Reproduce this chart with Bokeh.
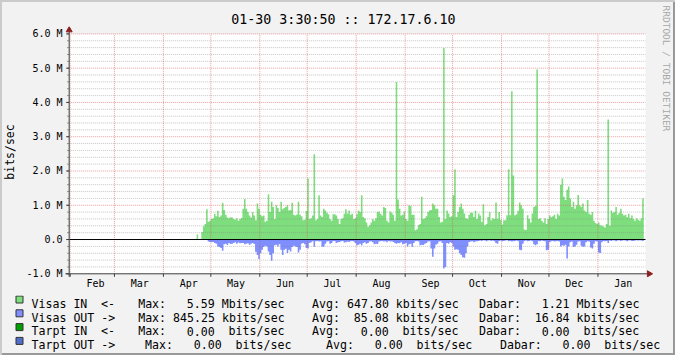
import re
import numpy as np
from bokeh.plotting import figure
from bokeh.models import Range1d, FixedTicker
from bokeh.layouts import column, row
from bokeh.embed import file_html
from bokeh.resources import INLINE
from bokeh.core.properties import value

# ---------------- data (Mbits/sec, one value per day; day 0 = Feb 1) ----------------
FIRST_DAY = 80

visas_in = [
    0.15, 0.00, 0.00, 0.22, 0.39, 0.45, 0.88, 0.52, 0.55, 0.60,   # 80
    0.62, 0.75, 0.68, 0.84, 0.66, 0.70, 1.07, 0.86, 0.72, 0.64,   # 90
    0.62, 0.65, 0.64, 0.60, 0.58, 0.62, 0.55, 0.60, 0.63, 0.90,   # 100
    1.18, 0.90, 0.80, 0.70, 0.64, 0.80, 0.70, 0.56, 1.05, 0.90,   # 110
    0.72, 0.68, 0.70, 0.52, 0.55, 1.32, 0.80, 1.10, 0.95, 0.60,   # 120
    1.00, 0.92, 0.80, 1.10, 0.88, 0.92, 0.95, 1.00, 0.85, 0.86,   # 130
    1.07, 0.72, 0.70, 0.73, 1.10, 0.72, 0.68, 0.56, 0.58, 0.83,   # 140
    1.78, 0.60, 0.62, 0.70, 2.49, 0.56, 0.60, 1.29, 0.70, 0.66,   # 150
    0.90, 0.85, 0.78, 0.74, 0.60, 0.55, 0.74, 0.74, 0.70, 0.60,   # 160
    0.45, 0.60, 0.62, 0.75, 0.88, 0.76, 0.85, 0.72, 0.75, 0.60,   # 170
    0.62, 0.74, 0.85, 0.80, 1.29, 0.66, 0.62, 0.50, 0.37, 0.42,   # 180
    0.50, 0.60, 0.55, 0.62, 0.80, 0.82, 0.75, 0.70, 0.95, 0.92,   # 190
    0.55, 0.50, 0.82, 0.78, 0.72, 0.55, 4.60, 1.17, 0.90, 0.70,   # 200
    0.72, 0.82, 0.60, 0.55, 1.00, 0.98, 0.72, 0.72, 0.27, 0.30,   # 210
    0.42, 0.45, 1.25, 0.60, 0.62, 0.68, 0.80, 0.85, 0.86, 1.05,   # 220
    1.00, 0.90, 0.90, 0.66, 0.50, 0.52, 5.59, 0.60, 0.85, 0.76,   # 230
    0.66, 0.68, 1.29, 2.04, 0.66, 0.80, 0.95, 1.05, 0.90, 0.76,   # 240
    0.62, 0.60, 0.72, 0.78, 0.78, 0.66, 0.84, 0.60, 0.76, 0.70,   # 250
    0.51, 1.03, 0.42, 0.45, 0.66, 0.80, 0.56, 0.62, 0.60, 1.08,   # 260
    0.61, 0.80, 0.58, 0.44, 0.56, 0.56, 0.71, 2.05, 0.71, 4.33,   # 270
    1.87, 0.71, 0.74, 0.84, 1.08, 1.00, 0.90, 0.29, 0.28, 0.71,   # 280
    0.60, 0.50, 0.76, 0.95, 0.98, 4.96, 0.60, 0.62, 0.55, 0.50,   # 290
    0.62, 0.45, 0.60, 0.70, 0.65, 0.68, 0.72, 0.60, 0.75, 0.70,   # 300
    1.60, 1.78, 1.25, 1.15, 1.45, 1.55, 1.20, 0.95, 1.10, 0.90,   # 310
    1.00, 1.30, 1.00, 0.95, 1.05, 0.85, 0.80, 1.15, 0.75, 0.72,   # 320
    0.80, 0.55, 0.48, 0.45, 0.50, 0.42, 0.40, 0.38, 0.35, 0.45,   # 330
    3.50, 0.40, 0.85, 0.78, 0.80, 0.95, 0.72, 0.78, 0.90, 0.75,   # 340
    0.70, 0.72, 0.65, 0.75, 0.62, 0.70, 0.60, 0.55, 0.62, 0.58,   # 350
    0.55, 0.62, 1.20,                                              # 360
]

visas_out = [
    0.00, 0.00, 0.00, 0.00, 0.00, 0.00, 0.00, -0.06, -0.07, -0.08,      # 80
    -0.07, -0.10, -0.12, -0.20, -0.22, -0.25, -0.33, -0.14, -0.12, -0.16,  # 90
    -0.10, -0.13, -0.12, -0.10, -0.08, -0.12, -0.09, -0.11, -0.10, -0.10,  # 100
    -0.14, -0.12, -0.11, -0.15, -0.12, -0.10, -0.13, -0.36, -0.45, -0.57,  # 110
    -0.40, -0.30, -0.22, -0.18, -0.20, -0.35, -0.45, -0.62, -0.40, -0.17,  # 120
    -0.15, -0.20, -0.14, -0.30, -0.45, -0.30, -0.27, -0.39, -0.30, -0.35,  # 130
    -0.22, -0.18, -0.20, -0.22, -0.38, -0.30, -0.12, -0.10, -0.14, -0.25,  # 140
    -0.26, -0.10, -0.08, -0.05, -0.21, -0.05, -0.04, -0.06, -0.05, -0.21,  # 150
    -0.20, -0.12, -0.06, -0.05, -0.12, -0.10, -0.04, -0.05, -0.10, -0.08,  # 160
    -0.07, -0.05, -0.04, -0.09, -0.08, -0.06, -0.07, -0.05, -0.04, -0.06,  # 170
    -0.10, -0.17, -0.15, -0.12, -0.17, -0.10, -0.08, -0.12, -0.10, -0.06,  # 180
    -0.05, -0.08, -0.14, -0.12, -0.13, -0.06, -0.05, -0.04, -0.06, -0.05,  # 190
    -0.08, -0.04, -0.06, -0.05, -0.07, -0.10, -0.12, -0.10, -0.11, -0.08,  # 200
    -0.14, -0.12, -0.10, -0.20, -0.14, -0.12, -0.21, -0.10, -0.05, -0.04,  # 210
    -0.06, -0.17, -0.15, -0.16, -0.12, -0.10, -0.06, -0.05, -0.26, -0.50,  # 220
    -0.26, -0.15, -0.12, -0.06, -0.05, -0.10, -0.845, -0.80, -0.10, -0.12, # 230
    -0.08, -0.10, -0.20, -0.30, -0.28, -0.30, -0.40, -0.45, -0.52, -0.53,  # 240
    -0.40, -0.20, -0.07, -0.06, -0.05, -0.08, -0.06, -0.05, -0.04, -0.03,  # 250
    -0.04, -0.02, -0.03, -0.05, -0.03, -0.02, -0.04, -0.03, -0.05, -0.10,  # 260
    -0.12, -0.04, -0.03, -0.05, -0.04, -0.03, -0.02, -0.05, -0.04, -0.06,  # 270
    -0.05, -0.04, -0.03, -0.05, -0.30, -0.31, -0.12, -0.04, -0.03, -0.05,  # 280
    -0.04, -0.03, -0.05, -0.14, -0.17, -0.14, -0.04, -0.05, -0.03, -0.04,  # 290
    -0.05, -0.31, -0.30, -0.08, -0.05, -0.04, -0.06, -0.05, -0.04, -0.06,  # 300
    -0.20, -0.17, -0.18, -0.15, -0.55, -0.20, -0.08, -0.06, -0.22, -0.20,  # 310
    -0.15, -0.06, -0.05, -0.18, -0.21, -0.20, -0.08, -0.05, -0.06, -0.23,  # 320
    -0.26, -0.12, -0.05, -0.06, -0.38, -0.39, -0.08, -0.04, -0.05, -0.04,  # 330
    -0.10, -0.03, -0.04, -0.02, -0.03, -0.05, -0.03, -0.02, -0.04, -0.03,  # 340
    -0.02, -0.03, -0.05, -0.03, -0.02, -0.04, -0.04, -0.03, -0.02, -0.03,  # 350
    -0.02, -0.03, -0.04,                                                    # 360
]

month_names = ["Feb", "Mar", "Apr", "May", "Jun", "Jul",
               "Aug", "Sep", "Oct", "Nov", "Dec", "Jan"]
month_start_days = [0, 28, 59, 89, 120, 150, 181, 212, 242, 273, 303, 334]

y_ticks = [-1, 0, 1, 2, 3, 4, 5, 6]
y_tick_labels = ["-1.0 M", "0.0", "1.0 M", "2.0 M", "3.0 M", "4.0 M", "5.0 M", "6.0 M"]

title_text = "01-30 3:30:50 :: 172.17.6.10"
credit_text = "RRDTOOL / TOBI OETIKER"

legend_rows = [
    "Visas IN  <-   Max:   5.59 Mbits/sec    Avg: 647.80 kbits/sec   Dabar:   1.21 Mbits/sec",
    "Visas OUT ->   Max: 845.25 kbits/sec    Avg:  85.08 kbits/sec   Dabar:  16.84 kbits/sec",
    "Tarpt IN  <-   Max:   0.00  bits/sec    Avg:   0.00  bits/sec   Dabar:   0.00  bits/sec",
    "Tarpt OUT ->    Max:   0.00  bits/sec     Avg:   0.00  bits/sec    Dabar:   0.00  bits/sec",
]

# ---------------- styles ----------------
FONT = "DejaVu Sans Mono"
GREEN = "#7EDE7E"
BLUE = "#7F8FFF"
TARPT_IN = "#00A000"
TARPT_OUT = "#506EC8"
legend_colors = [GREEN, BLUE, TARPT_IN, TARPT_OUT]
AXIS = "#3C3C3C"
ARROW = "#8B2020"
MINOR = "#808080"
MAJOR = "#D85050"
BG = "#F2F2F2"

# pixel geometry of the chart area (canvas coordinates)
X0_PX, PXD = 67.7, 1.5855     # Feb 1 position, pixels per day
YM1_PX, PXM = 273.3, 34.27    # -1 M position, pixels per M
FRAME_LEFT = 62


def dx(px):
    return (px - X0_PX) / PXD


def dy(py):
    return -1 + (YM1_PX - py) / PXM


def common(p):
    p.background_fill_color = None
    p.border_fill_color = None
    p.outline_line_color = None
    return p


# ---------------- title strip (frame aligned with the chart frame) ----------------
T = common(figure(width=653, height=26, x_range=Range1d(FRAME_LEFT, 653), y_range=Range1d(0, 26),
                  x_axis_type=None, y_axis_type=None, min_border=0,
                  min_border_left=FRAME_LEFT,
                  output_backend="svg", toolbar_location=None))
T.text(x=[229.4], y=[26 - 18.6], text=[title_text], text_font=value(FONT),
       text_font_size="13.3px", text_align="left", text_baseline="alphabetic",
       text_color="#000000")

# ---------------- chart ----------------
A = common(figure(width=653, height=269,
                  x_range=Range1d(dx(FRAME_LEFT), dx(653)), y_range=Range1d(dy(277), dy(26)),
                  min_border=0, min_border_left=FRAME_LEFT, min_border_bottom=18,
                  min_border_right=0, min_border_top=0,
                  output_backend="svg", toolbar_location=None))
A.xgrid.visible = False
A.ygrid.visible = False

ax_left, ax_right = dx(66.7), dx(645)
A.quad(left=[ax_left], right=[ax_right], bottom=[-1], top=[6],
       fill_color="#FFFFFF", line_color=None)


def steps(start, vals):
    d = start + np.arange(len(vals))
    xs = np.column_stack([d, d + 1]).ravel()
    ys = np.repeat(np.asarray(vals, dtype=float), 2)
    return xs, ys


xi, yi = steps(FIRST_DAY, visas_in)
xo, yo = steps(FIRST_DAY, visas_out)
A.varea(x=xi, y1=np.zeros_like(yi), y2=yi, fill_color=GREEN)
A.varea(x=xo, y1=np.zeros_like(yo), y2=yo, fill_color=BLUE)

# grid (drawn over the areas, like rrdtool)
grid_levels = np.round(np.arange(-1, 6.0001, 0.2), 2)
minor_levels = [v for v in grid_levels if abs(v - round(v)) > 1e-6]
major_levels = [v for v in y_ticks if v not in (0, -1)]
A.segment(x0=[ax_left] * len(minor_levels), y0=minor_levels,
          x1=[ax_right] * len(minor_levels), y1=minor_levels,
          line_color=MINOR, line_alpha=0.45, line_dash="1 1", line_width=1)
A.segment(x0=[ax_left] * len(major_levels), y0=major_levels,
          x1=[ax_right] * len(major_levels), y1=major_levels,
          line_color=MAJOR, line_alpha=0.55, line_dash="1 1", line_width=1)
A.segment(x0=month_start_days, y0=[-1] * 12, x1=month_start_days, y1=[6] * 12,
          line_color=MAJOR, line_alpha=0.55, line_dash="1 1", line_width=1)

# zero line
A.segment(x0=[ax_left], y0=[0], x1=[ax_right], y1=[0], line_color="#000000", line_width=1)

# axes lines, ticks and arrows
A.segment(x0=[ax_left], y0=[dy(276.3)], x1=[ax_left], y1=[dy(31)], line_color=AXIS, line_width=1)
A.segment(x0=[dx(63)], y0=[-1], x1=[dx(647)], y1=[-1], line_color=AXIS, line_width=1)
A.segment(x0=[dx(64.7)] * len(grid_levels), y0=grid_levels,
          x1=[ax_left] * len(grid_levels), y1=grid_levels, line_color="#808080", line_width=1)
A.segment(x0=[dx(63.7)] * len(y_ticks), y0=y_ticks,
          x1=[ax_left] * len(y_ticks), y1=y_ticks, line_color=AXIS, line_width=1)
A.segment(x0=month_start_days, y0=[-1] * 12, x1=month_start_days, y1=[dy(276.3)] * 12,
          line_color=AXIS, line_width=1)
A.scatter(x=[ax_left], y=[dy(29.6)], marker="triangle", size=6,
          fill_color=ARROW, line_color=ARROW)
A.scatter(x=[dx(648.6)], y=[-1], marker="triangle", size=6, angle=-np.pi / 2,
          fill_color=ARROW, line_color=ARROW)

label_days = [d + 16 for d in month_start_days]
xa = A.xaxis[0]
xa.ticker = FixedTicker(ticks=label_days, minor_ticks=[])
xa.major_label_overrides = {d: m for d, m in zip(label_days, month_names)}
ya = A.yaxis[0]
ya.ticker = FixedTicker(ticks=y_ticks, minor_ticks=[])
ya.major_label_overrides = {v: s for v, s in zip(y_ticks, y_tick_labels)}
for ax in (xa, ya):
    ax.axis_line_color = None
    ax.major_tick_line_color = None
    ax.minor_tick_line_color = None
    ax.major_tick_out = 0
    ax.major_tick_in = 0
    ax.minor_tick_out = 0
    ax.minor_tick_in = 0
    ax.major_label_text_font = FONT
    ax.major_label_text_font_size = "10px"
    ax.major_label_text_color = "#000000"
xa.major_label_standoff = 0
ya.major_label_standoff = 2
ya.axis_label = "bits/sec"
ya.axis_label_text_font = FONT
ya.axis_label_text_font_size = "11.5px"
ya.axis_label_text_font_style = "normal"
ya.axis_label_text_color = "#000000"
ya.axis_label_standoff = 6

# ---------------- right credit strip ----------------
R = common(figure(width=22, height=295, x_range=Range1d(0, 22), y_range=Range1d(0, 295),
                  x_axis_type=None, y_axis_type=None, min_border=0,
                  output_backend="svg", toolbar_location=None))
R.text(x=[13], y=[295 - 5], text=[credit_text], angle=-np.pi / 2,
       text_font=value(FONT), text_font_size="9.5px", text_align="left",
       text_baseline="middle", text_color="#A5A5A5")

# ---------------- legend strip ----------------
L = common(figure(width=675, height=60, x_range=Range1d(0, 675), y_range=Range1d(0, 60),
                  x_axis_type=None, y_axis_type=None, min_border=0,
                  output_backend="svg", toolbar_location=None))
n = len(legend_rows)
sw_top = [355 - (295.5 + i * 13.8) for i in range(n)]
L.quad(left=[15.5] * n, right=[22.5] * n, top=sw_top, bottom=[t - 7 for t in sw_top],
       fill_color=legend_colors, line_color="#333333", line_width=1)

# each row split into word groups placed on a monospace column grid (SVG collapses spaces)
CHAR_W = 6.957
tok_x, tok_y, tok_t = [], [], []
for i, row_text in enumerate(legend_rows):
    base = 355 - (303.3 + i * 13.7)
    for m in re.finditer(r"\S+(?: \S+)*", row_text):
        col = m.start()
        tok_x.append(31 + col * CHAR_W + (2.3 if col >= 13 else 0.0))
        tok_y.append(base)
        tok_t.append(m.group())
L.text(x=tok_x, y=tok_y, text=tok_t,
       text_font=value(FONT), text_font_size="11.6px", text_align="left",
       text_baseline="alphabetic", text_color="#000000")

root = column(row(column(T, A), R), L,
              styles={"background-color": BG,
                      "box-shadow": "inset 2px 2px 0 0 #CBCBCB, inset -2px -2px 0 0 #999999"})

open("out.html", "w").write(file_html(root, INLINE))
